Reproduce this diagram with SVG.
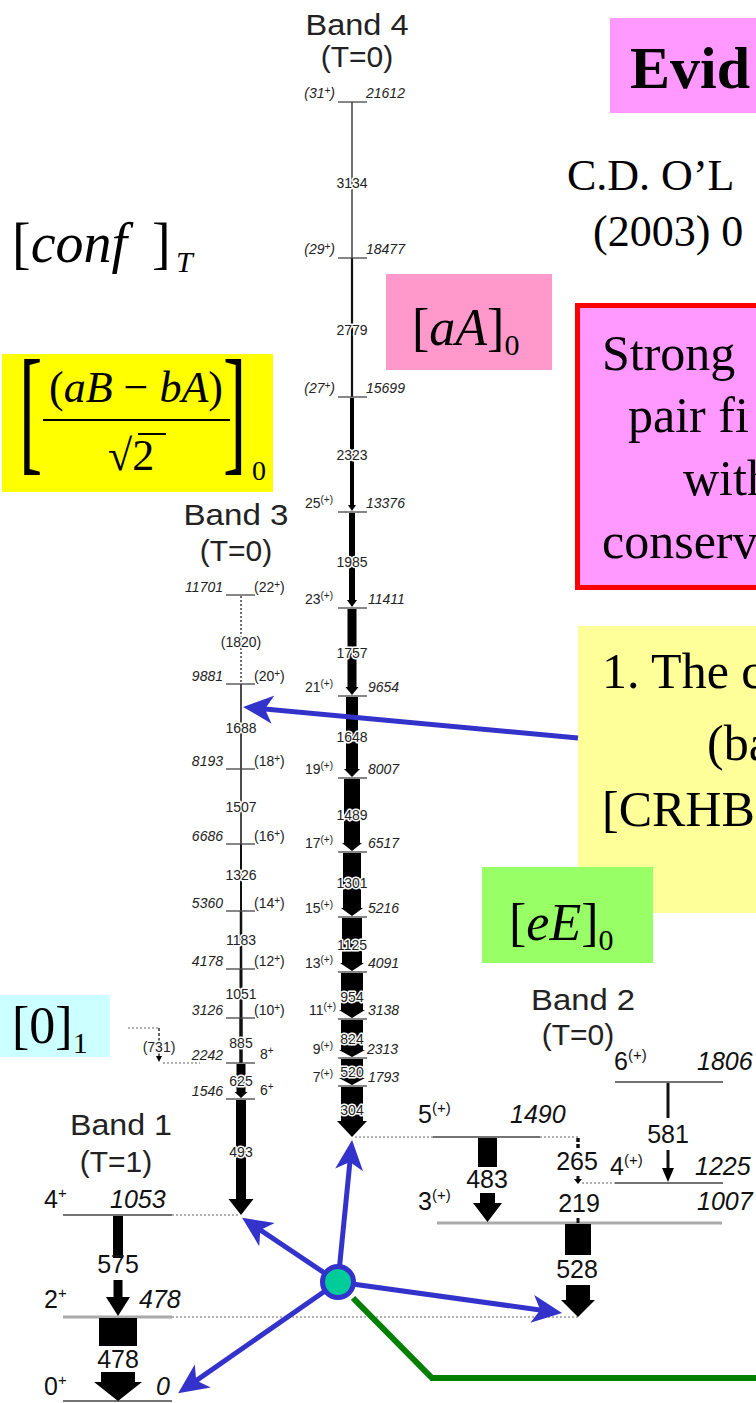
<svg xmlns="http://www.w3.org/2000/svg" width="756" height="1403" viewBox="0 0 756 1403">
<defs>
<style>
.lv{stroke:#444;stroke-width:1.3;fill:none}
.lvg{stroke:#aaa;stroke-width:3;fill:none}
.dot{stroke:#999;stroke-width:1.3;stroke-dasharray:2 2;fill:none}
.ln{stroke:#111;fill:none}
.bar{fill:#000}
.s{font-family:"Liberation Sans",Arial,sans-serif;font-size:14px;fill:#222}
.i{font-style:italic}
.e{text-anchor:end}
.m{text-anchor:middle}
.h{paint-order:stroke;stroke:#fff;stroke-width:3px;stroke-linejoin:round}
.L{font-family:"Liberation Sans",Arial,sans-serif;font-size:25px;fill:#111}
.sup{font-size:15px}
.sup2{font-size:10px}
.title{font-family:"Liberation Sans",Arial,sans-serif;font-size:30px;fill:#222;text-anchor:middle}
.ser{font-family:"Liberation Serif","Times New Roman",serif;fill:#000}
.blue{stroke:#3333cc;stroke-width:5;fill:none}
</style>
<marker id="ah" viewBox="0 0 30 30" refX="22" refY="15" markerWidth="30" markerHeight="30" markerUnits="userSpaceOnUse" orient="auto">
<path d="M0,1 L30,15 L0,29 L8,15 Z" fill="#3333cc"/>
</marker>
</defs>
<rect width="756" height="1403" fill="#fff"/>

<!-- Titles of bands -->
<g id="band4-title"><text class="title" x="357" y="35" textLength="103" lengthAdjust="spacingAndGlyphs">Band 4</text><text class="title" x="357" y="67">(T=0)</text></g>
<g id="band3-title"><text class="title" x="236" y="525" textLength="105" lengthAdjust="spacingAndGlyphs">Band 3</text><text class="title" x="236" y="561">(T=0)</text></g>
<g id="band2-title"><text class="title" x="583" y="1010" textLength="104" lengthAdjust="spacingAndGlyphs">Band 2</text><text class="title" x="578" y="1045">(T=0)</text></g>
<g id="band1-title"><text class="title" x="121" y="1135" textLength="102" lengthAdjust="spacingAndGlyphs">Band 1</text><text class="title" x="116" y="1172">(T=1)</text></g>

<!-- Band 4 -->
<g id="band4">
<line class="ln" x1="352" y1="102" x2="352" y2="258" stroke-width="1.2"/>
<line class="ln" x1="352" y1="258" x2="352" y2="397" stroke-width="2.2"/>
<polygon class="bar" points="350,398 354,398 354,505 356,505 352,511 348,505 350,505"/>
<polygon class="bar" points="349,513 355,513 355,600 357,600 352,607 347,600 349,600"/>
<polygon class="bar" points="347.5,609 356.5,609 356.5,687 358.5,687 352,695 345.5,687 347.5,687"/>
<polygon class="bar" points="346,697 358,697 358,769 360,769 352,777 344,769 346,769"/>
<polygon class="bar" points="344,779 360,779 360,843 362,843 352,851 342,843 344,843"/>
<polygon class="bar" points="343,853 361,853 361,908 363,908 352,916 341,908 343,908"/>
<polygon class="bar" points="342,918 362,918 362,963 364,963 352,971 340,963 342,963"/>
<polygon class="bar" points="341,973 363,973 363,1010 365,1010 352,1018 339,1010 341,1010"/>
<polygon class="bar" points="341,1020 363,1020 363,1050 365,1050 352,1057 339,1050 341,1050"/>
<polygon class="bar" points="341,1059 363,1059 363,1078 365,1078 352,1085 339,1078 341,1078"/>
<polygon class="bar" points="341,1087 363,1087 363,1121 367,1121 352,1137 337,1121 341,1121"/>
<g class="lv">
<line x1="338" y1="102" x2="367" y2="102"/><line x1="338" y1="258" x2="367" y2="258"/>
<line x1="338" y1="397" x2="367" y2="397"/><line x1="338" y1="512" x2="367" y2="512"/>
<line x1="338" y1="608" x2="367" y2="608"/><line x1="338" y1="696" x2="367" y2="696"/>
<line x1="338" y1="778" x2="367" y2="778"/><line x1="338" y1="852" x2="367" y2="852"/>
<line x1="338" y1="917" x2="367" y2="917"/><line x1="338" y1="972" x2="367" y2="972"/>
<line x1="338" y1="1019" x2="367" y2="1019"/><line x1="338" y1="1058" x2="367" y2="1058"/>
<line x1="338" y1="1086" x2="367" y2="1086"/>
</g>
<g class="s i e">
<text x="335" y="98">(31<tspan class="sup2" dy="-4">+</tspan><tspan dy="4">)</tspan></text>
<text x="335" y="254">(29<tspan class="sup2" dy="-4">+</tspan><tspan dy="4">)</tspan></text>
<text x="335" y="393">(27<tspan class="sup2" dy="-4">+</tspan><tspan dy="4">)</tspan></text>
</g>
<g class="s e">
<text x="333" y="508">25<tspan class="sup2" dy="-5">(+)</tspan></text>
<text x="333" y="604">23<tspan class="sup2" dy="-5">(+)</tspan></text>
<text x="333" y="692">21<tspan class="sup2" dy="-5">(+)</tspan></text>
<text x="333" y="774">19<tspan class="sup2" dy="-5">(+)</tspan></text>
<text x="333" y="848">17<tspan class="sup2" dy="-5">(+)</tspan></text>
<text x="333" y="913">15<tspan class="sup2" dy="-5">(+)</tspan></text>
<text x="333" y="968">13<tspan class="sup2" dy="-5">(+)</tspan></text>
<text x="336" y="1015">11<tspan class="sup2" dy="-5">(+)</tspan></text>
<text x="333" y="1054">9<tspan class="sup2" dy="-5">(+)</tspan></text>
<text x="333" y="1082">7<tspan class="sup2" dy="-5">(+)</tspan></text>
</g>
<g class="s i">
<text x="366" y="98">21612</text><text x="366" y="254">18477</text><text x="366" y="393">15699</text>
<text x="366" y="508">13376</text><text x="368" y="604">11411</text><text x="368" y="692">9654</text>
<text x="368" y="774">8007</text><text x="368" y="848">6517</text><text x="368" y="913">5216</text>
<text x="368" y="968">4091</text><text x="368" y="1015">3138</text><text x="367" y="1054">2313</text>
<text x="368" y="1082">1793</text>
</g>
<g class="s m h">
<text x="352" y="188">3134</text><text x="352" y="335">2779</text><text x="352" y="460">2323</text>
<text x="352" y="567">1985</text><text x="352" y="658">1757</text><text x="352" y="742">1648</text>
<text x="352" y="820">1489</text><text x="352" y="888">1301</text><text x="352" y="950">1125</text>
<text x="352" y="1002">954</text><text x="352" y="1044">824</text><text x="352" y="1077">520</text>
<text x="352" y="1115">304</text>
</g>
</g>

<!-- Band 3 -->
<g id="band3">
<line class="ln" x1="241" y1="596" x2="241" y2="683" stroke-width="1.2" stroke-dasharray="2 2"/>
<line class="ln" x1="241" y1="684" x2="241" y2="769" stroke-width="1.5"/>
<line class="ln" x1="241" y1="769" x2="241" y2="844" stroke-width="1.5"/>
<line class="ln" x1="241" y1="844" x2="241" y2="911" stroke-width="2"/>
<line class="ln" x1="241" y1="911" x2="241" y2="969" stroke-width="2.5"/>
<line class="ln" x1="241" y1="969" x2="241" y2="1018" stroke-width="3"/>
<line class="ln" x1="241" y1="1018" x2="241" y2="1063" stroke-width="3.5"/>
<polygon class="bar" points="236.5,1064 245.5,1064 245.5,1092 247.5,1092 241,1098 234.5,1092 236.5,1092"/>
<polygon class="bar" points="236,1100 246,1100 246,1199 253.5,1199 241,1215 228.5,1199 236,1199"/>
<g class="lv">
<line x1="226" y1="595" x2="255" y2="595"/><line x1="226" y1="684" x2="255" y2="684"/>
<line x1="226" y1="769" x2="255" y2="769"/><line x1="226" y1="844" x2="255" y2="844"/>
<line x1="226" y1="911" x2="255" y2="911"/><line x1="226" y1="969" x2="255" y2="969"/>
<line x1="226" y1="1018" x2="255" y2="1018"/><line x1="226" y1="1063" x2="255" y2="1063"/>
<line x1="226" y1="1099" x2="255" y2="1099"/>
</g>
<g class="s i e">
<text x="223" y="592">11701</text><text x="223" y="681">9881</text><text x="223" y="766">8193</text>
<text x="223" y="841">6686</text><text x="223" y="908">5360</text><text x="223" y="966">4178</text>
<text x="223" y="1015">3126</text><text x="223" y="1060">2242</text><text x="223" y="1096">1546</text>
</g>
<g class="s">
<text x="254" y="592">(22<tspan class="sup2" dy="-4">+</tspan><tspan dy="4">)</tspan></text>
<text x="254" y="681">(20<tspan class="sup2" dy="-4">+</tspan><tspan dy="4">)</tspan></text>
<text x="254" y="766">(18<tspan class="sup2" dy="-4">+</tspan><tspan dy="4">)</tspan></text>
<text x="254" y="841">(16<tspan class="sup2" dy="-4">+</tspan><tspan dy="4">)</tspan></text>
<text x="254" y="908">(14<tspan class="sup2" dy="-4">+</tspan><tspan dy="4">)</tspan></text>
<text x="254" y="966">(12<tspan class="sup2" dy="-4">+</tspan><tspan dy="4">)</tspan></text>
<text x="254" y="1015">(10<tspan class="sup2" dy="-4">+</tspan><tspan dy="4">)</tspan></text>
<text x="260" y="1059">8<tspan class="sup2" dy="-5">+</tspan></text>
<text x="260" y="1095">6<tspan class="sup2" dy="-5">+</tspan></text>
</g>
<g class="s m h">
<text x="241" y="647">(1820)</text><text x="241" y="733">1688</text><text x="241" y="812">1507</text>
<text x="241" y="880">1326</text><text x="241" y="945">1183</text><text x="241" y="999">1051</text>
<text x="241" y="1048">885</text><text x="241" y="1086">625</text><text x="241" y="1157">493</text>
</g>
</g>

<!-- (731) transition -->
<g id="t731">
<line class="dot" x1="128" y1="1028" x2="160" y2="1028"/>
<line class="dot" x1="163" y1="1063" x2="200" y2="1063"/>
<line class="ln" x1="159" y1="1028" x2="159" y2="1058" stroke-width="1.3" stroke-dasharray="3 2"/>
<polygon class="bar" points="156,1056 162,1056 159,1062"/>
<text class="s m h" x="159" y="1052">(731)</text>
</g>

<!-- Band 1 -->
<g id="band1">
<line class="lv" x1="63" y1="1215" x2="172" y2="1215" stroke-width="2"/>
<line class="dot" x1="172" y1="1215" x2="240" y2="1215"/>
<line class="lvg" x1="63" y1="1317" x2="172" y2="1317"/>
<line class="dot" x1="172" y1="1317" x2="580" y2="1317"/>
<line class="lv" x1="63" y1="1401" x2="172" y2="1401" stroke-width="2.5"/>
<rect class="bar" x="113" y="1216" width="10" height="42"/>
<polygon class="bar" points="113.5,1280 122.5,1280 122.5,1297 130,1297 118,1316 106,1297 113.5,1297"/>
<rect class="bar" x="99" y="1318" width="38" height="28"/>
<polygon class="bar" points="101,1372 135,1372 135,1382 142,1382 118,1401 94,1382 101,1382"/>
<text class="L" x="44" y="1208">4<tspan class="sup" dy="-10">+</tspan></text>
<text class="L i" x="110" y="1208">1053</text>
<text class="L m" x="118" y="1273">575</text>
<text class="L" x="44" y="1308">2<tspan class="sup" dy="-10">+</tspan></text>
<text class="L i" x="139" y="1308">478</text>
<text class="L m" x="118" y="1368">478</text>
<text class="L" x="44" y="1395">0<tspan class="sup" dy="-10">+</tspan></text>
<text class="L i" x="156" y="1395">0</text>
</g>

<!-- Band 2 -->
<g id="band2">
<line class="lv" x1="615" y1="1082" x2="723" y2="1082" stroke-width="2"/>
<line class="dot" x1="355" y1="1137" x2="433" y2="1137"/>
<line class="lv" x1="433" y1="1137" x2="540" y2="1137" stroke-width="2"/>
<line class="dot" x1="540" y1="1137" x2="580" y2="1137"/>
<line class="dot" x1="582" y1="1183" x2="615" y2="1183"/>
<line class="lv" x1="615" y1="1183" x2="723" y2="1183" stroke-width="2"/>
<line class="lvg" x1="437" y1="1223" x2="722" y2="1223"/>
<rect class="bar" x="478" y="1138" width="19" height="29"/>
<polygon class="bar" points="480,1193 495,1193 495,1203 502,1203 487.5,1222 473,1203 480,1203"/>
<rect class="bar" x="565" y="1224" width="26" height="31"/>
<polygon class="bar" points="566,1285 590,1285 590,1300 595,1300 578,1317 561,1300 566,1300"/>
<line class="ln" x1="668" y1="1083" x2="668" y2="1118" stroke-width="3"/>
<line class="ln" x1="668" y1="1150" x2="668" y2="1170" stroke-width="3"/>
<polygon class="bar" points="662,1168 674,1168 668,1182"/>
<line class="ln" x1="578" y1="1138" x2="578" y2="1149" stroke-width="3.5" stroke-dasharray="4 2"/>
<line class="ln" x1="578" y1="1176" x2="578" y2="1181" stroke-width="3"/>
<polygon class="bar" points="574,1179 582,1179 578,1184"/>
<line class="ln" x1="578" y1="1218" x2="578" y2="1223" stroke-width="3"/>
<text class="L" x="614" y="1070">6<tspan class="sup" dy="-10">(+)</tspan></text>
<text class="L i" x="697" y="1070">1806</text>
<text class="L m" x="668" y="1143">581</text>
<text class="L" x="418" y="1123">5<tspan class="sup" dy="-10">(+)</tspan></text>
<text class="L i" x="510" y="1123">1490</text>
<text class="L m" x="487" y="1188">483</text>
<text class="L m" x="577" y="1170">265</text>
<text class="L" x="610" y="1175">4<tspan class="sup" dy="-10">(+)</tspan></text>
<text class="L i" x="695" y="1175">1225</text>
<text class="L" x="418" y="1210">3<tspan class="sup" dy="-10">(+)</tspan></text>
<text class="L m" x="579" y="1212">219</text>
<text class="L i" x="697" y="1210">1007</text>
<text class="L m" x="577" y="1278">528</text>
</g>

<!-- Annotation boxes -->
<g id="title-box">
<rect x="610" y="18" width="146" height="95" fill="#ff99ff"/>
<text class="ser" x="630" y="88" font-size="60" font-weight="bold">Evid</text>
</g>
<g id="reference">
<text class="ser" x="567" y="190" font-size="44">C.D. O’L</text>
<text class="ser" x="593" y="246" font-size="44">(2003) 0</text>
</g>
<g id="conf-label">
<text class="ser" x="12" y="262" font-size="56">[<tspan font-style="italic">conf</tspan><tspan x="152">]</tspan><tspan x="176" dy="10" font-size="30" font-style="italic">T</tspan></text>
</g>
<g id="aA-box">
<rect x="386" y="274" width="166" height="96" fill="#ff99cc"/>
<text class="ser" x="412" y="345" font-size="52">[<tspan font-style="italic">aA</tspan>]<tspan dy="10" font-size="30">0</tspan></text>
</g>
<g id="strong-box">
<rect x="577.5" y="305.5" width="200" height="282" fill="#ff99ff" stroke="#ff0000" stroke-width="5"/>
<text class="ser" x="602" y="370" font-size="50">Strong</text>
<text class="ser" x="628" y="432" font-size="50">pair fi</text>
<text class="ser" x="683" y="495" font-size="50">with</text>
<text class="ser" x="602" y="558" font-size="50">conserv</text>
</g>
<g id="abba-box">
<rect x="2" y="354" width="271" height="138" fill="#ffff00"/>
<text class="ser" transform="scale(1,2)" x="19" y="228" font-size="70">[</text>
<text class="ser" transform="scale(1,2)" x="223" y="228" font-size="70">]</text>
<text class="ser" x="136" y="402" font-size="44" text-anchor="middle">(<tspan font-style="italic">aB</tspan> − <tspan font-style="italic">bA</tspan>)</text>
<line x1="43" y1="420" x2="230" y2="420" stroke="#000" stroke-width="2"/>
<text class="ser" x="108" y="470" font-size="44">√2</text>
<line x1="138" y1="434" x2="166" y2="434" stroke="#000" stroke-width="2"/>
<text class="ser" x="252" y="480" font-size="28">0</text>
</g>
<g id="crhb-box">
<rect x="578" y="626" width="178" height="287" fill="#ffff99"/>
<text class="ser" x="602" y="688" font-size="50">1. The c</text>
<text class="ser" x="707" y="760" font-size="50">(ba</text>
<text class="ser" x="602" y="826" font-size="50">[CRHB</text>
</g>
<g id="eE-box">
<rect x="482" y="867" width="171" height="96" fill="#99ff66"/>
<text class="ser" x="509" y="940" font-size="52">[<tspan font-style="italic">eE</tspan>]<tspan dy="10" font-size="30">0</tspan></text>
</g>
<g id="zero-box">
<rect x="0" y="995" width="110" height="62" fill="#ccffff"/>
<text class="ser" x="12" y="1043" font-size="52">[0]<tspan dy="10" font-size="30">1</tspan></text>
</g>

<!-- Connectors -->
<g id="connectors">
<line class="blue" x1="578" y1="738" x2="251" y2="707.7" marker-end="url(#ah)"/>
<line class="blue" x1="338" y1="1282" x2="351.3" y2="1148" marker-end="url(#ah)"/>
<line class="blue" x1="338" y1="1282" x2="248.7" y2="1222.3" marker-end="url(#ah)"/>
<line class="blue" x1="338" y1="1282" x2="184.7" y2="1388.6" marker-end="url(#ah)"/>
<line class="blue" x1="338" y1="1282" x2="554.1" y2="1312" marker-end="url(#ah)"/>
<polyline points="353,1298 432,1378 756,1378" fill="none" stroke="#008000" stroke-width="6"/>
</g>
<g id="hub">
<circle cx="338" cy="1282" r="15.5" fill="#00cc99" stroke="#3333cc" stroke-width="5"/>
</g>
</svg>
